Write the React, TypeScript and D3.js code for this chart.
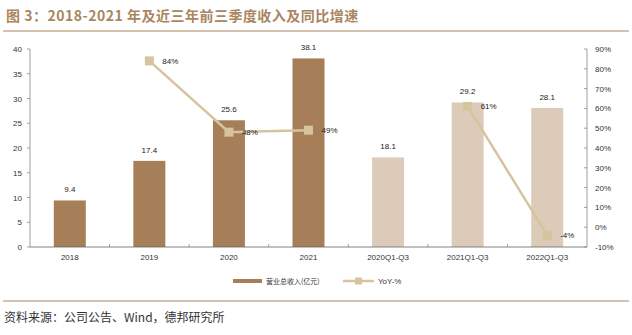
import React from "react";
import * as d3 from "d3";

const categories = ["2018", "2019", "2020", "2021", "2020Q1-Q3", "2021Q1-Q3", "2022Q1-Q3"];
const revenue = [9.4, 17.4, 25.6, 38.1, 18.1, 29.2, 28.1];
const yoy: (number | null)[] = [null, 84, 48, 49, null, 61, -4];
const leftTicks = [0, 5, 10, 15, 20, 25, 30, 35, 40];
const rightTicks = [-10, 0, 10, 20, 30, 40, 50, 60, 70, 80, 90];
const title = "图 3：2018-2021 年及近三年前三季度收入及同比增速";
const source = "资料来源：公司公告、Wind，德邦研究所";
const seriesNames = ["营业总收入(亿元)", "YoY-%"];

const W = 632, H = 335;
const font = "'Liberation Sans', Arial, sans-serif";
const dark = "#a67f58";
const light = "#dccbb9";
const lineC = "#d6c49e";
const brown = "#a98660";

export default function App() {
  const left = 30, right = 587, top = 49, bottom = 247;
  const band = d3.scaleBand().domain(categories).range([left, right]);
  const yL = d3.scaleLinear().domain([0, 40]).range([bottom, top]);
  const yR = d3.scaleLinear().domain([-10, 90]).range([bottom, top]);
  const cx = (c: string) => (band(c) as number) + band.bandwidth() / 2;
  const bw = 32;
  const pts = categories.map((c, i) => ({ c, v: yoy[i] }));
  const line = d3.line<{ c: string; v: number | null }>()
    .defined(d => d.v !== null)
    .x(d => cx(d.c))
    .y(d => yR(d.v as number));

  return (
    <svg width={W} height={H} style={{ position: "absolute", left: 0, top: 0 }} fontFamily={font}>
      <rect width={W} height={H} fill="#fff" />
      <text x={6} y={21} fontSize={14} fontWeight="bold" fill={brown} letterSpacing={0.5} fontFamily="'Noto Sans CJK SC', sans-serif">{title}</text>
      <line x1={3} x2={629} y1={31} y2={31} stroke={brown} strokeWidth={1.2} />

      {/* bars */}
      {categories.map((c, i) => (
        <g key={c}>
          <rect x={cx(c) - bw / 2} y={yL(revenue[i])} width={bw} height={bottom - yL(revenue[i])} fill={i < 4 ? dark : light} />
          <text x={cx(c)} y={yL(revenue[i]) - 8} textAnchor="middle" fontSize={8} fill="#222">{revenue[i].toFixed(1)}</text>
        </g>
      ))}

      {/* axes */}
      <line x1={left} x2={left} y1={top} y2={bottom} stroke="#888" strokeWidth={0.8} />
      <line x1={right} x2={right} y1={top} y2={bottom} stroke="#888" strokeWidth={0.8} />
      <line x1={left} x2={right} y1={bottom} y2={bottom} stroke="#666" strokeWidth={0.8} />
      {leftTicks.map(t => (
        <g key={"l" + t}>
          <line x1={left - 3} x2={left} y1={yL(t)} y2={yL(t)} stroke="#888" strokeWidth={0.8} />
          <text x={left - 8} y={yL(t) + 3} textAnchor="end" fontSize={8} fill="#333">{t}</text>
        </g>
      ))}
      {rightTicks.map(t => (
        <g key={"r" + t}>
          <line x1={right - 3} x2={right} y1={yR(t)} y2={yR(t)} stroke="#888" strokeWidth={0.8} />
          <text x={right + 8} y={yR(t) + 3} textAnchor="start" fontSize={8} fill="#333">{t}%</text>
        </g>
      ))}
      {categories.slice(1).map(c => (
        <line key={"xt" + c} x1={band(c) as number} x2={band(c) as number} y1={bottom - 3} y2={bottom} stroke="#888" strokeWidth={0.8} />
      ))}
      {categories.map(c => (
        <text key={"xl" + c} x={cx(c)} y={bottom + 13} textAnchor="middle" fontSize={8} fill="#333">{c}</text>
      ))}

      {/* line */}
      <path d={line(pts) || ""} fill="none" stroke={lineC} strokeWidth={2.5} />
      {pts.filter(p => p.v !== null).map(p => (
        <g key={"p" + p.c}>
          <rect x={cx(p.c) - 4.5} y={yR(p.v as number) - 4.5} width={9} height={9} fill={lineC} />
          <text x={cx(p.c) + 13} y={yR(p.v as number) + 3} fontSize={8} fill="#222">{p.v}%</text>
        </g>
      ))}

      {/* legend */}
      <rect x={233} y={279} width={29} height={4} fill={dark} />
      <text x={266} y={284} fontSize={7} fill="#333" fontFamily="'Noto Sans CJK SC', sans-serif">{seriesNames[0]}</text>
      <line x1={343} x2={374} y1={281} y2={281} stroke={lineC} strokeWidth={2.5} />
      <rect x={355} y={277.5} width={7} height={7} fill={lineC} />
      <text x={378} y={284} fontSize={8} fill="#333">{seriesNames[1]}</text>

      <line x1={3} x2={629} y1={301} y2={301} stroke={brown} strokeWidth={1.2} />
      <text x={4} y={322} fontSize={12} fill="#333" fontFamily="'Noto Sans CJK SC', sans-serif">{source}</text>
    </svg>
  );
}
